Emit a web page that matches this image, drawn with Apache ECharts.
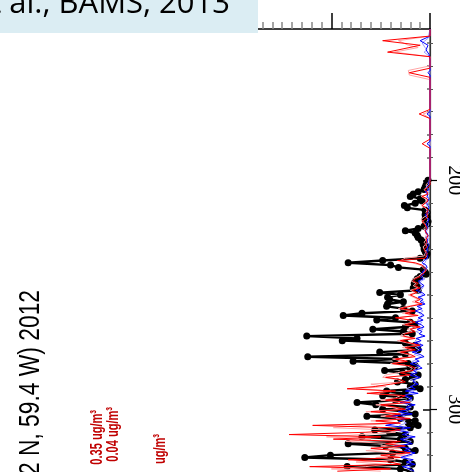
<!DOCTYPE html>
<html><head><meta charset="utf-8">
<script src="https://cdn.jsdelivr.net/npm/echarts@6/dist/echarts.min.js"></script>
<style>html,body{margin:0;padding:0;background:#fff}#c{width:460px;height:472px}</style>
</head><body><div id="c"></div>
<script>
// ---- data (time axis = day number, value axis = concentration units) ----
const DAY0 = 200; // first day of the daily records below
const blackVals = [0.2,0.3,0.4,0.5,0.6,1.2,1.7,2.0,1.0,0.8, 1.5,2.6,2.3,0.5,0.3,0.5,0.3,0.5,0.2,0.3,
  0.6,1.2,2.5,1.5,1.3,1.2,0.9,0.7,0.7,0.4, 0.6,0.5,0.3,0.4,1.0,4.8,8.3,4.0,3.2,0.7,
  0.5,0.4,1.0,1.3,1.5,1.6,1.3,1.7,1.2,5.1, 3.0,4.3,4.1,2.7,4.3,4.4,2.7,1.8,6.9,8.8,
  3.5,5.4,2.0,1.5,2.5,5.8,2.7,1.8,12.5,7.4, 8.9,2.5,1.5,2.0,1.2,5.1,2.5,12.4,3.5,7.8,
  2.2,1.5,2.0,4.6,2.8,1.2,1.8,2.5,3.3,1.5, 2.0,1.0,4.4,2.5,4.8,2.0,3.5,7.4,5.5,2.0,
  4.8,2.5,1.5,6.4,3.0,1.5,2.2,1.2,2.0,5.6, 4.1,2.5,6.9,3.0,2.0,8.3,4.5,2.5,1.5,3.8,
  10.1,12.7,4.0,2.5,1.8,8.4,3.0,2.0];
const redEarly = [[134,0],[137,0],[139,4.8],[141,1.0],[144,4.3],[146,0],[151,0],[153,2.1],[155,0],
  [169,0],[171,1.1],[173,0],[182,0],[184,0.8],[186,0],[199,0]];
const redVals = [0,0,0,0.2,0.5,0.3,0.2,0.8,0.3,0.2, 0.5,0.8,0.4,0.2,0.3,0.3,0.2,0.5,0.8,0.6, 0.4,0.3,0.5,0.4,0.2,0.3,0.4,0.3,0.5,0.3,
  0.6,0.5,0.3,0.4,0.5,3.3,1.5,0.8,0.6,0.4, 0.5,0.8,1.0,1.5,1.7,1.2,1.5,1.0,1.8,1.3, 2.0,1.5,1.0,1.5,0.8,2.0,3.0,1.5,2.5,1.2,
  3.5,2.0,1.5,2.5,1.0,2.0,1.5,2.5,2.7,1.5, 3.0,2.0,1.0,2.5,1.5,3.0,2.0,1.5,3.5,2.3, 3.8,2.0,1.5,1.7,3.0,2.0,4.5,3.0,2.5,4.0,
  5.5,8.4,3.5,6.4,2.5,3.0,4.5,2.0,5.0,3.5, 2.5,6.0,3.0,4.5,2.0,5.5,3.0,11.9,4.0,3.0, 6.5,14.3,5.0,9.8,3.0,4.5,2.5,6.0,3.5,2.0,
  5.0,3.0,8.3,4.0,3.0,12.2,4.0,9.4];
const pinkEarly = [[134,0],[137,0],[139,3.2],[141,2.2],[142,1.2],[144,3.6],[146,0],[150,0],[152,2.2],[154,2.1],[156,0],
  [170,0],[171,0.7],[173,0],[199,0]];
const pinkVals = [0,0.2,0.4,0.3,0.6,0.4,0.3,0.9,0.5,0.3, 0.6,0.9,0.5,0.3,0.4,0.2,0.6,0.9,0.7,0.5, 0.4,0.6,0.5,0.3,0.4,0.5,0.4,0.6,0.4,0.7,
  0.6,0.4,0.5,0.6,2.5,3.0,1.8,1.0,0.7,0.5, 0.6,0.9,1.2,1.7,1.9,1.4,1.7,1.2,2.0,1.5, 2.2,1.7,1.2,1.8,1.0,2.3,3.2,1.8,2.8,1.5,
  3.2,2.2,1.8,2.8,1.2,2.3,1.8,2.8,3.0,1.8, 3.3,2.3,1.2,2.8,1.8,3.3,2.3,1.8,3.8,2.6, 4.0,2.3,1.8,2.0,3.3,4.5,4.8,3.3,2.8,6.0,
  4.5,7.5,4.0,6.0,3.0,3.5,5.0,2.5,5.5,4.0, 3.0,6.5,3.5,5.0,2.5,6.0,3.5,7.0,9.8,4.5, 3.5,7.0,10.5,6.0,8.5,3.5,5.0,3.0,6.5,4.0,
  2.5,5.5,3.5,7.5,4.5,6.5,10.0,5.0];
const blueEarly = [[134,0],[137,0],[139,1.0],[141,0.2],[143,0.4],[145,0.1],[147,0],[152,0],[153,0.2],[154,0],
  [170,0],[171,0.3],[172,0],[183,0],[184,0.3],[185,0],[199,0]];
const blueVals = [0,0.2,0,0.3,0.1,0.5,0.2,0.3,0.1,0.2, 0.4,0.2,0.1,0.3,0.2,0.5,0.3,0.1,0.2,0.4, 0.3,0.2,0.5,0.3,0.2,0.4,0.2,0.3,0.1,0.2,
  0.3,0.2,0.4,0.2,0.3,0.6,0.8,0.4,0.3,0.5, 0.8,0.6,1.0,0.7,1.2,0.9,0.6,1.0,1.4,0.8, 0.5,1.2,0.7,1.0,0.5,1.3,0.8,1.5,0.9,0.6,
  1.2,0.7,1.5,0.9,0.6,1.3,0.8,1.1,0.5,1.4, 0.9,1.6,0.7,1.2,0.8,1.8,1.0,0.6,1.5,1.1, 2.0,1.2,0.8,1.7,1.3,2.2,1.0,1.6,1.7,1.2,
  2.0,1.5,2.5,1.2,2.8,1.8,2.2,3.0,1.5,2.4, 2.0,3.2,1.8,4.1,2.5,3.0,3.3,4.5,2.0,3.5, 2.2,2.8,1.5,3.0,2.4,1.8,3.6,2.0,2.6,1.5,
  2.2,3.0,1.7,2.4,1.5,2.8,2.0,1.6];
const lblueEarly = [[134,0],[138,0.2],[140,0.8],[142,0.5],[143,0.3],[144,0.6],[146,0],[199,0]];
const lblueVals = [0.1,0,0.2,0.4,0.2,0.1,0.3,0.2,0.4,0.1, 0.2,0.3,0.5,0.2,0.1,0.3,0.4,0.2,0.3,0.1, 0.2,0.4,0.3,0.5,0.2,0.1,0.3,0.2,0.4,0.3,
  0.2,0.5,0.3,0.4,0.2,0.4,0.5,0.7,0.5,0.3, 0.6,1.0,0.8,0.5,0.9,1.1,0.8,0.7,1.0,1.2, 0.7,0.9,1.1,0.6,0.8,1.0,1.2,0.7,1.1,0.8,
  0.9,1.3,0.8,1.2,1.0,0.7,1.4,1.0,0.8,1.2, 1.5,1.0,0.9,1.5,1.1,1.3,1.6,0.9,1.2,1.8, 1.4,1.0,1.6,1.3,1.9,1.5,1.2,2.0,1.4,1.6,
  1.8,2.4,1.6,2.0,2.6,2.2,1.8,2.7,2.3,1.9, 2.6,2.2,3.0,2.5,3.4,2.8,2.4,3.1,2.6,2.9, 2.0,2.5,2.2,2.7,1.9,2.3,2.8,2.4,2.0,2.5,
  1.8,2.6,2.2,1.9,2.4,2.0,2.3,1.8];

const dayMinorTicks = [140,150,160,170,180,190,210,220,230,240,250,260,270,280,290,310,320];
const dayMajorTicks = [200,300];
const valMinorTicks = [1,2,3,4,5,6,7,8,9,11,12,13,14,15,16,17,18,19,21,22,23,24,25,26,27,28,29,31,32,33,34,35,36,37,38];
const valMajorTicks = [0,10,20,30];
const sourceText = 'Prospero et al., BAMS, 2013';
const titleText = 'Barbados (13.2 N, 59.4 W) 2012';
const noteTexts = ['0.35 ug/m\u00b3', '0.04 ug/m\u00b3', 'ug/m\u00b3'];

// ---- layout ----
const DAY_MIN = 133.9, DAY_MAX = 330, VAL_MAX = 38.34;
const daily = (vals) => vals.map((v, i) => [v, DAY0 + i]);
const early = (pairs) => pairs.map(p => [p[1], p[0]]);

const chart = echarts.init(document.getElementById('c'), null, {renderer: 'canvas'});
const baseY = {type: 'value', inverse: true, min: DAY_MIN, max: DAY_MAX, splitLine: {show: false}, axisLabel: {show: false}};
const baseX = {type: 'value', inverse: true, min: 0, max: VAL_MAX, position: 'top', splitLine: {show: false}, axisLabel: {show: false}};
const thin = (name, data, color, z) => ({type: 'line', name, data, symbol: 'none', lineStyle: {color, width: 1}, z, animation: false});
const narrow = (size, weight) => weight + ' ' + size + 'px "Liberation Sans", Arial, sans-serif';

chart.setOption({
  animation: false,
  backgroundColor: '#fff',
  grid: {left: 52, right: 30, top: 29, height: (DAY_MAX - DAY_MIN) * 2.29, outerBoundsMode: 'none', containLabel: false},
  xAxis: [
    Object.assign({}, baseX, {axisLine: {lineStyle: {color: '#000', width: 1.5}},
      axisTick: {customValues: valMinorTicks, length: 7, lineStyle: {color: '#888', width: 1.5}}}),
    Object.assign({}, baseX, {axisLine: {show: false},
      axisTick: {customValues: valMajorTicks, length: 16, lineStyle: {color: '#000', width: 1.5}}})
  ],
  yAxis: [
    Object.assign({}, baseY, {position: 'left', axisLine: {lineStyle: {color: '#666', width: 1.5}},
      axisTick: {customValues: dayMinorTicks, length: 3, lineStyle: {color: '#666', width: 1.5}}}),
    Object.assign({}, baseY, {position: 'left', axisLine: {show: false},
      axisTick: {customValues: dayMajorTicks, length: 7, lineStyle: {color: '#000', width: 1.5}}}),
    Object.assign({}, baseY, {position: 'right', axisLine: {lineStyle: {color: '#333', width: 1.2}},
      axisTick: {customValues: dayMinorTicks, length: 3, lineStyle: {color: '#555', width: 1}}}),
    Object.assign({}, baseY, {position: 'right', axisLine: {show: false},
      axisTick: {customValues: dayMajorTicks, length: 7, lineStyle: {color: '#000', width: 1.2}},
      axisLabel: {show: true, customValues: dayMajorTicks, rotate: -90, margin: 14,
        fontFamily: 'Liberation Serif', fontSize: 20, color: '#000'}})
  ],
  series: [
    {type: 'line', name: 'obs', data: daily(blackVals), symbol: 'circle', symbolSize: 7, showSymbol: true, showAllSymbol: true,
      lineStyle: {color: '#000', width: 2.4}, itemStyle: {color: '#000'}, z: 2},
    thin('pink', early(pinkEarly).concat(daily(pinkVals)), '#ffa6a6', 3),
    thin('lightblue', early(lblueEarly).concat(daily(lblueVals)), '#9c9cff', 3),
    thin('blue', early(blueEarly).concat(daily(blueVals)), '#0000ff', 4),
    thin('red', early(redEarly).concat(daily(redVals)), '#ff0000', 5)
  ],
  graphic: [
    {type: 'rect', shape: {x: 0, y: 0, width: 258, height: 33}, style: {fill: '#dbedf3'}, z: 100},
    {type: 'text', x: 230, y: 4, z: 101, style: {text: sourceText, align: 'right', verticalAlign: 'middle',
      font: '31px "Open Sans", sans-serif', fill: '#000'}},
    {type: 'text', x: 31, y: 290, rotation: Math.PI / 2, scaleX: 0.76, z: 101, style: {text: titleText, align: 'right', verticalAlign: 'middle',
      font: narrow(30, 'normal'), fill: '#000'}},
    {type: 'text', x: 97, y: 410, rotation: Math.PI / 2, scaleX: 0.65, z: 101, style: {text: noteTexts[0], align: 'right', verticalAlign: 'middle',
      font: narrow(17, 'bold'), fill: '#c00000'}},
    {type: 'text', x: 113, y: 407, rotation: Math.PI / 2, scaleX: 0.65, z: 101, style: {text: noteTexts[1], align: 'right', verticalAlign: 'middle',
      font: narrow(17, 'bold'), fill: '#c00000'}},
    {type: 'text', x: 160, y: 434, rotation: Math.PI / 2, scaleX: 0.65, z: 101, style: {text: noteTexts[2], align: 'right', verticalAlign: 'middle',
      font: narrow(17, 'bold'), fill: '#c00000'}}
  ]
});
</script></body></html>
